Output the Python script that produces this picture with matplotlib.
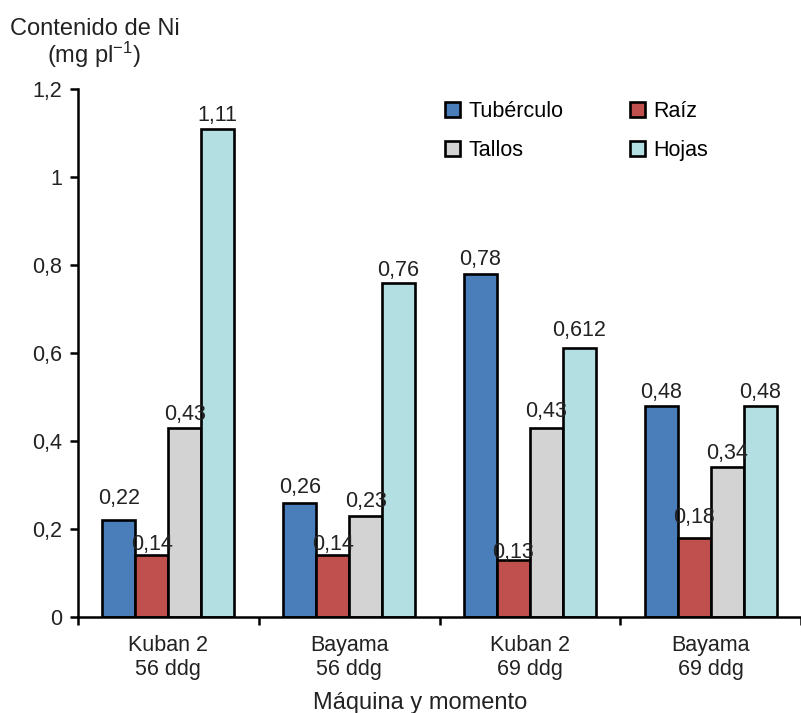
import numpy as np
import matplotlib
matplotlib.use('Agg')
import matplotlib.pyplot as plt

plt.rcParams['font.family'] = ['Liberation Sans', 'DejaVu Sans']
plt.rcParams['mathtext.fontset'] = 'custom'
plt.rcParams['mathtext.rm'] = 'Liberation Sans'
plt.rcParams['mathtext.it'] = 'Liberation Sans'

# datos
grupos = ['Kuban 2\n56 ddg', 'Bayama\n56 ddg', 'Kuban 2\n69 ddg', 'Bayama\n69 ddg']
series = ['Tubérculo', 'Raíz', 'Tallos', 'Hojas']
tuberculo = [0.22, 0.26, 0.78, 0.48]
raiz = [0.14, 0.14, 0.13, 0.18]
tallos = [0.43, 0.23, 0.43, 0.34]
hojas = [1.11, 0.76, 0.612, 0.48]
etiquetas = [['0,22', '0,26', '0,78', '0,48'],
             ['0,14', '0,14', '0,13', '0,18'],
             ['0,43', '0,23', '0,43', '0,34'],
             ['1,11', '0,76', '0,612', '0,48']]
yticks = [0, 0.2, 0.4, 0.6, 0.8, 1.0, 1.2]
ytick_labels = ['0', '0,2', '0,4', '0,6', '0,8', '1', '1,2']

colores = ['#4a7ebb', '#c0504d', '#d3d3d3', '#b3dfe3']
# separacion (px) entre la etiqueta y la barra
separacion = [[16, 10, 9, 8], [5, 5, 2, 15], [8, 9, 11, 8], [8, 7, 12, 8]]

fig = plt.figure(figsize=(8.01, 7.13), dpi=100)
ax = fig.add_axes([78/801, 96/713, 723/801, 528/713])

x = np.arange(len(grupos))
w = 0.1823
valores = [tuberculo, raiz, tallos, hojas]
barras = []
for i, vals in enumerate(valores):
    pos = x + (i - 1.5) * w
    b = ax.bar(pos, vals, w, color=colores[i], edgecolor='black', linewidth=1.9,
               label=series[i])
    barras.append(b)
    for j in range(len(vals)):
        ax.annotate(etiquetas[i][j], (pos[j], vals[j]), xytext=(0, separacion[i][j]),
                    textcoords='offset pixels', ha='center', va='baseline',
                    fontsize=15.5, color='#222222')

ax.set_xlim(-0.5, 3.5)
ax.set_ylim(0, 1.2)
ax.spines['top'].set_visible(False)
ax.spines['right'].set_visible(False)
ax.spines['left'].set_linewidth(1.8)
ax.spines['bottom'].set_linewidth(1.8)

ax.set_yticks(yticks)
ax.set_yticklabels(ytick_labels)
ax.tick_params(axis='y', direction='out', length=6, width=1.8, pad=5.5,
               labelsize=15.5, labelcolor='#222222')

ax.set_xticks(np.arange(-0.5, 4, 1))
ax.set_xticklabels([])
ax.tick_params(axis='x', which='major', direction='out', length=6, width=1.8)
ax.set_xticks(x, minor=True)
ax.set_xticklabels(grupos, minor=True, fontsize=15.5, color='#222222', linespacing=1.2)
ax.tick_params(axis='x', which='minor', length=0, pad=13)

fig.text(420/801, 1 - 709/713, 'Máquina y momento', ha='center', va='baseline',
         fontsize=17, color='#222222')
fig.text(10/801, 1 - 35/713, 'Contenido de Ni', ha='left', va='baseline',
         fontsize=17, color='#222222')
fig.text(94/801, 1 - 63/713, r'(mg pl$^{-1}$)', ha='center', va='baseline',
         fontsize=17, color='#222222')

handles = [barras[0], barras[2], barras[1], barras[3]]
labels = [series[0], series[2], series[1], series[3]]
ax.legend(handles, labels, ncol=2, frameon=False, fontsize=15.5,
          loc='upper left', bbox_to_anchor=(445/801, 1 - 101/713),
          bbox_transform=fig.transFigure, borderpad=0, borderaxespad=0,
          handlelength=0.7, handleheight=0.7, handletextpad=0.38,
          labelspacing=0.85, columnspacing=3.1)

plt.savefig('out.png', dpi=100)
